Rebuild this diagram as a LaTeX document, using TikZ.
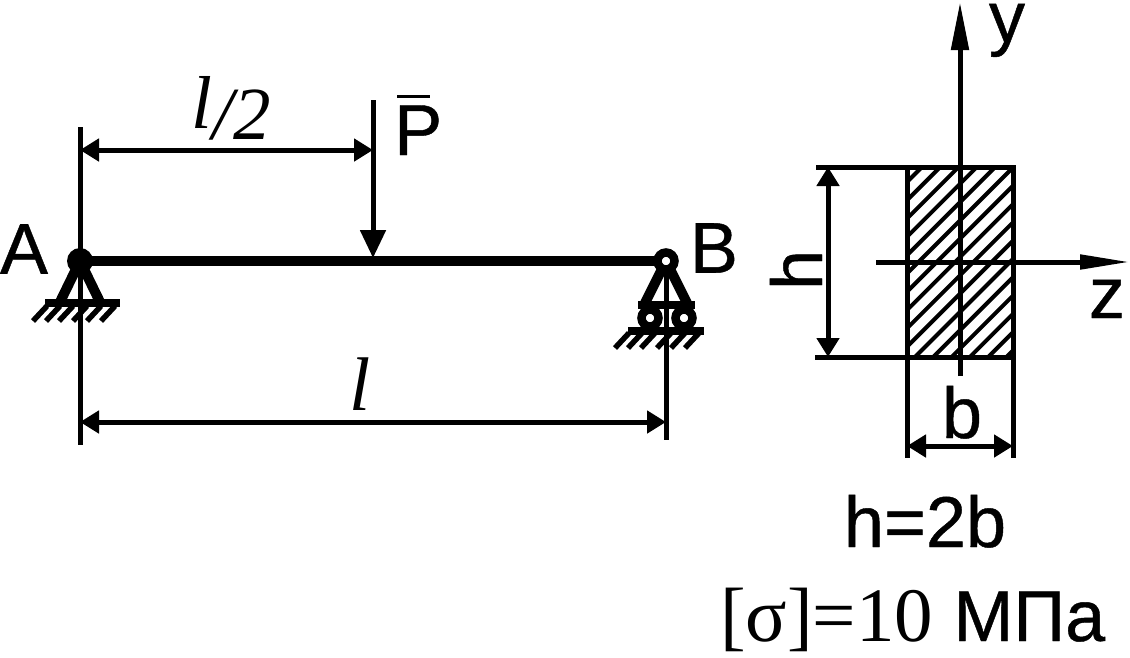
\documentclass[tikz,border=0pt]{standalone}
\usepackage{fontspec}
\setmainfont{Liberation Sans}[FakeBold=0.6]
\newfontfamily\serifgr{Liberation Serif}
\usetikzlibrary{arrows.meta}

\tikzset{
    ink/.style={draw=black, line width=5pt},
    thinline/.style={draw=black, line width=4pt},
    dimline/.style={draw=black, line width=5pt, {Triangle[length=19pt,width=22pt]}-{Triangle[length=19pt,width=22pt]}},
    label/.style={inner sep=0pt, font=\fontsize{72}{72}\selectfont},
    hinge/.style={circle, draw=black, fill=white, inner sep=0pt, minimum size=17pt, line width=8.5pt},
}

\begin{document}
\begin{tikzpicture}[x=1pt, y=-1pt]
    \useasboundingbox (0,0) rectangle (1130,657);

    % beam and its lines
    \coordinate (A) at (80,261);
    \coordinate (B) at (666,261);
    \coordinate (Atop) at (80,127);
    \coordinate (Abot) at (80,445);
    \coordinate (Bbot) at (666,440);
    \draw[ink] (Atop) -- (Abot);
    \draw[ink] (B) -- (Bbot);
    \draw[draw=black, line width=10pt] (A) -- (B);

    % support A
    \draw[draw=black, line width=10pt] (60,302) -- (A) -- (100,302);
    \draw[draw=black, line width=8pt] (45,303) -- (120,303);
    \foreach \x in {33,46,59,73,87,101}
        \draw[draw=black, line width=5.5pt] (\x,321) -- (\x+14,306);
    \fill[black] (A) circle (13pt);

    % support B
    \draw[draw=black, line width=10pt] (645,303) -- (B) -- (687,303);
    \draw[draw=black, line width=8pt] (638,305) -- (695,305);
    \draw[draw=black, line width=8pt] (628,331) -- (704,331);
    \foreach \x in {615,628,641,657,671,685}
        \draw[draw=black, line width=5.5pt] (\x,348) -- (\x+14,333);
    \node[hinge] (hingeB) at (B) {};
    \node[hinge] (rollerL) at (650,318) {};
    \node[hinge] (rollerR) at (684,318) {};

    % load and dimensions
    \coordinate (Ptop) at (373,100);
    \coordinate (Ptip) at (373,258);
    \draw[ink, -{Triangle[length=28pt,width=25pt]}] (Ptop) -- (Ptip);
    \coordinate (d1a) at (80,150);
    \coordinate (d1b) at (373,150);
    \draw[dimline] (d1a) -- (d1b);
    \coordinate (d2a) at (80,422);
    \coordinate (d2b) at (666,422);
    \draw[dimline] (d2a) -- (d2b);

    \node[label] (lblA) at (24,249) {A};
    \node[label] (lblB) at (714,248) {B};
    \node[label, anchor=base west] (lblP) at (394,155) {P};
    \draw[draw=black, line width=3pt] (397,96) -- (430,96);
    \node[label, anchor=base, font=\fontsize{75}{75}\selectfont\serifgr\itshape] (lblHalf) at (231,139) {\raisebox{11pt}{l}/2};
    \node[label, anchor=base, font=\fontsize{76}{76}\selectfont\serifgr\itshape] (lblL) at (360,410) {l};

    % cross section
    \coordinate (rTL) at (907,167);
    \coordinate (rBR) at (1013,357);
    \begin{scope}
        \clip (rTL) rectangle (rBR);
        \foreach \k in {0,...,15}
            \draw[thinline] (907,1089-907+18.3*\k) -- ++(300,-300);
    \end{scope}
    \draw[ink] (rTL) rectangle (rBR);
    \coordinate (topext) at (816,167);
    \coordinate (botext) at (815,357);
    \draw[ink] (topext) -- (rTL);
    \draw[ink] (botext) -- (907,357);
    \coordinate (lefte) at (907,458);
    \coordinate (righte) at (1013,458);
    \draw[ink] (907,357) -- (lefte);
    \draw[ink] (1013,357) -- (righte);

    \coordinate (ybot) at (960,376);
    \coordinate (ytip) at (960,2);
    \draw[ink, -{Triangle[length=48pt,width=17pt]}] (ybot) -- (ytip);
    \coordinate (zleft) at (876,262);
    \coordinate (ztip) at (1130,262);
    \draw[ink, -{Triangle[length=50pt,width=14pt]}] (zleft) -- (ztip);

    \coordinate (ha) at (828,167);
    \coordinate (hb) at (828,357);
    \draw[dimline] (ha) -- (hb);
    \coordinate (ba) at (907,446);
    \coordinate (bb) at (1013,446);
    \draw[dimline] (ba) -- (bb);

    \node[label, anchor=base] (lbly) at (1007,42) {y};
    \node[label, anchor=base] (lblz) at (1107,318) {z};
    \node[label, anchor=base, rotate=90] (lblh) at (822,270) {h};
    \node[label, anchor=base] (lblb) at (962,438) {b};
    \node[label, anchor=base] (lbleq) at (925,547) {h=2b};
    \node[label, anchor=base west] (lblsig) at (720,641) {{\fontsize{77}{77}\selectfont\serifgr[σ]=10}\hspace*{20pt}МПа};
\end{tikzpicture}
\end{document}
